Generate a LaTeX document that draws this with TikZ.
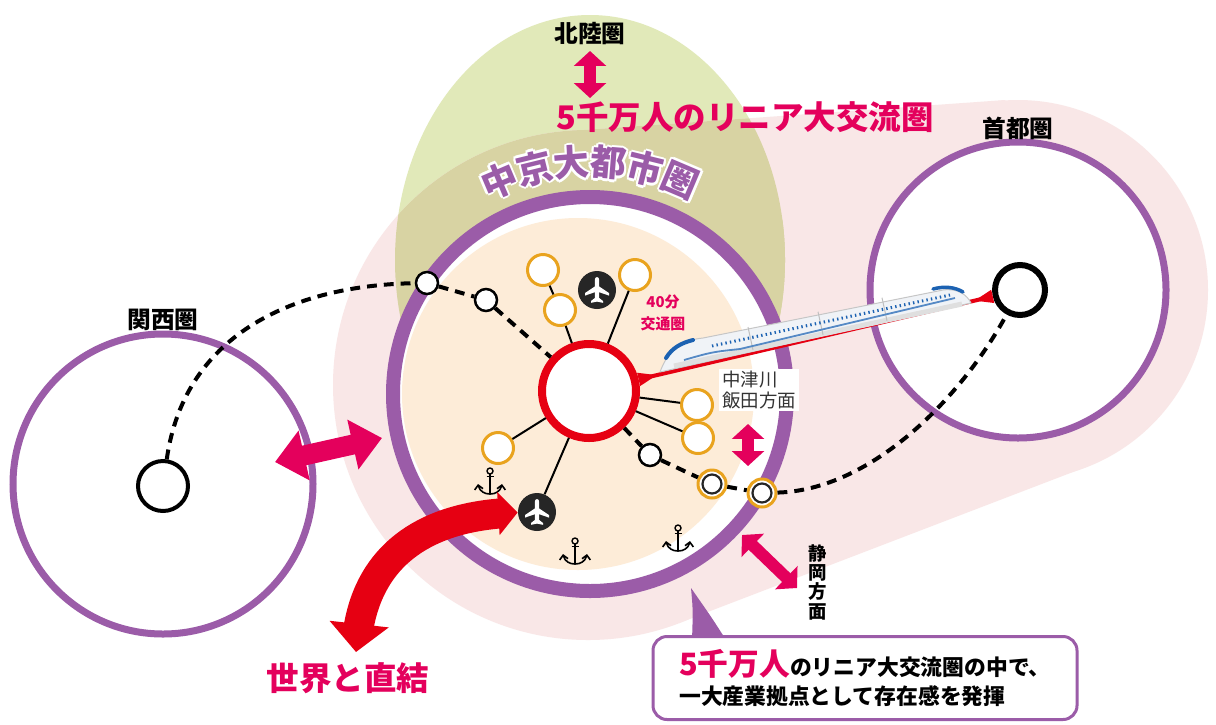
\documentclass[tikz,border=0pt]{standalone}
\usepackage{fontspec}
\setmainfont{Noto Sans CJK JP}
\usepackage{xcolor}
\usepackage{tikz}
\usetikzlibrary{arrows.meta, bending}
\definecolor{zonePurple}{RGB}{155,92,168}
\definecolor{linkMagenta}{RGB}{228,0,92}
\definecolor{worldRed}{RGB}{230,0,18}
\definecolor{townOrange}{RGB}{233,163,30}
\definecolor{coreBeige}{RGB}{253,236,216}
\definecolor{bandPink}{RGB}{249,231,231}
\definecolor{hokuGreen}{RGB}{225,233,185}
\definecolor{hokuOlive}{RGB}{216,211,163}
\definecolor{trainBlue}{RGB}{28,98,178}
\definecolor{trainBody}{RGB}{240,243,247}
\newlength{\pxu}\setlength{\pxu}{0.02cm}

\tikzset{
  plane/.pic={
    \fill[white] (0,-13) .. controls (1.4,-13) and (2.2,-11.5) .. (2.2,-10)
      -- (2.2,-3.5) -- (12,3) -- (12,5.6) -- (2.2,2.2) -- (2.2,8) -- (6,11)
      -- (6,12.8) -- (0,11.6) -- (-6,12.8) -- (-6,11) -- (-2.2,8) -- (-2.2,2.2)
      -- (-12,5.6) -- (-12,3) -- (-2.2,-3.5) -- (-2.2,-10)
      .. controls (-2.2,-11.5) and (-1.4,-13) .. (0,-13) -- cycle;
  },
  harbour/.pic={
    \draw[line width=1.4\pxu] (0,-12) circle [radius=3];
    \draw[line width=1.8\pxu] (0,-9) -- (0,11) (-3.5,-6.5) -- (3.5,-6.5);
    \draw[line width=1.6\pxu, {Straight Barb[length=2.4pt]}-{Straight Barb[length=2.4pt]}]
      (-12,1) .. controls (-11,8) and (-6,11) .. (0,11)
      .. controls (6,11) and (11,8) .. (12,1);
  }
}

\begin{document}
\begin{tikzpicture}[x=0.02cm, y=-0.02cm,
  zone/.style={circle, draw=zonePurple, fill=white, inner sep=0pt},
  halt/.style={circle, draw=black, fill=white, line width=2.5\pxu, minimum size=22\pxu, inner sep=0pt},
  halt2/.style={circle, draw=townOrange, fill=white, line width=3\pxu, minimum size=28\pxu, inner sep=0pt,
    path picture={\draw[black!85, line width=2.2\pxu] (path picture bounding box.center) circle [radius=9.5\pxu];}},
  town/.style={circle, draw=townOrange, fill=white, line width=3\pxu, minimum size=31\pxu, inner sep=0pt},
  airport/.style={circle, fill=black!85, minimum size=38\pxu, inner sep=0pt},
  rail/.style={line width=4\pxu, dash pattern=on 5.6pt off 4pt},
  spoke/.style={line width=2\pxu},
  twoway/.style={linkMagenta, line width=12\pxu, {Triangle[width=18pt, length=8.5pt]}-{Triangle[width=18pt, length=8.5pt]}},
  lbl/.style={font=\bfseries\fontsize{13.5}{15}\selectfont},
  msgbox/.style={draw=zonePurple, line width=3\pxu, fill=white, rounded corners=14\pxu,
    minimum width=424\pxu, minimum height=83\pxu, align=left, font=\bfseries\fontsize{12.4}{17}\selectfont}]
\useasboundingbox[fill=white] (0,0) rectangle (1216,724);

% hokuriku band and linear-shinkansen band
\fill[hokuGreen] (590,260) ellipse [x radius=195, y radius=245];
\fill[bandPink] (588,385) circle [radius=255] (1018,290) circle [radius=190];
\fill[bandPink] (570,131) -- (1005,100) -- (1086,467) -- (679,623) -- cycle;
\begin{scope}
  \clip (590,260) ellipse [x radius=195, y radius=245];
  \fill[hokuOlive] (588,385) circle [radius=255] (1018,290) circle [radius=190];
  \fill[hokuOlive] (570,131) -- (1005,100) -- (1086,467) -- (679,623) -- cycle;
\end{scope}

% metropolitan areas
\node[zone, line width=7\pxu, minimum size=300\pxu] (kansai) at (163,484) {};
\node[zone, line width=7\pxu, minimum size=296\pxu] (shuto) at (1018,290) {};
\node[zone, line width=14\pxu, minimum size=394\pxu] (chukyo) at (590,394) {};
\fill[coreBeige] (578,394) circle [radius=176];

% ring title with a white rim
\foreach \ch [count=\i] in {中,京,大,都,市,圏} {
  \pgfmathsetmacro{\ang}{-23+(\i-1)*9.2}
  \pgfmathsetmacro{\rot}{-\ang}
  \foreach \k in {0,45,...,315}
    \node[text=white, font=\bfseries\fontsize{20.5}{22}\selectfont, rotate=\rot]
      (halo-\i-\k) at ({590+232*sin(\ang)+2.4*cos(\k)}, {394-232*cos(\ang)+2.4*sin(\k)}) {\ch};
  \node[text=zonePurple, font=\bfseries\fontsize{20.5}{22}\selectfont, rotate=\rot]
    (title-\i) at ({590+232*sin(\ang)}, {394-232*cos(\ang)}) {\ch};
}

% stations
\node[circle, draw=black, fill=white, line width=4\pxu, minimum size=50\pxu] (kansaiC) at (163,486) {};
\node[circle, draw=black, fill=white, line width=6\pxu, minimum size=50\pxu] (shutoC) at (1020,290) {};
\node[halt] (w1) at (427,283) {};
\node[halt] (w2) at (486,300) {};
\node[halt] (w3) at (650,455) {};
\node[halt2] (w4) at (712,484) {};
\node[halt2] (w5) at (762,493) {};
\node[circle, draw=worldRed, fill=white, line width=8\pxu, minimum size=94\pxu] (hub) at (589,391) {};

\draw[rail] (kansaiC) .. controls (185,330) and (300,285) .. (w1);
\draw[rail] (w1) -- (w2);
\draw[rail] (w2) -- (hub);
\draw[rail] (hub) -- (w3);
\draw[rail] (w3) -- (w4);
\draw[rail] (w4) -- (w5);
\draw[rail] (w5) .. controls (870,490) and (960,400) .. (shutoC);

% towns, airports and ports around the hub
\node[town] (t1) at (543,270) {};
\node[town] (t2) at (560,310) {};
\node[town] (t3) at (635,275) {};
\node[town] (t4) at (697,405) {};
\node[town] (t5) at (698,438) {};
\node[town] (t6) at (498,448) {};
\node[airport] (air1) at (597,290) {};
\node[airport] (air2) at (537,512) {};
\pic at (air1) {plane};
\pic at (air2) {plane};
\draw[spoke] (t1) -- (t2) (t2) -- (hub) (t3) -- (hub) (hub) -- (t4)
  (hub) -- (t5) (hub) -- (t6) (hub) -- (air2);
\pic at (490,483) {harbour};
\pic at (575,553) {harbour};
\pic at (678,540) {harbour};

% maglev line and train
\draw[worldRed, line width=4\pxu,
  {Triangle[reversed, width=7pt, length=11pt]}-{Triangle[reversed, width=7pt, length=11pt]}]
  (hub) -- (shutoC);
\fill[trainBody, draw=gray!45, line width=1\pxu, line join=round]
  (660,372) .. controls (668,350) and (682,340) .. (703,338) -- (943,290)
  .. controls (958,288) and (967,295) .. (971,303) -- cycle;
\draw[gray!25, line width=5\pxu] (674,366) -- (962,304);
\foreach \xx in {753,823,887}
  \draw[gray!50, line width=1\pxu] (\xx,{370-0.219*(\xx-662)}) -- ++(-5,-23);
\draw[trainBlue!75, line width=1.8\pxu] (684,360) .. controls (712,352) .. (740,349) -- (955,298);
\draw[trainBlue, line width=3\pxu, dash pattern=on 0.8pt off 1.8pt] (712,346) -- (950,295);
\draw[trainBlue, line width=4\pxu, line cap=round] (666,358) .. controls (672,348) and (681,343) .. (693,340);
\draw[trainBlue, line width=3.5\pxu, line cap=round] (933,289) .. controls (944,286) and (955,287) .. (963,292);

% two-way links
\coordinate (hokuN) at (590,51);
\coordinate (hokuS) at (590,98);
\coordinate (kanW) at (275,462);
\coordinate (kanE) at (382,438);
\coordinate (iidaN) at (748,424);
\coordinate (iidaS) at (748,466);
\coordinate (shizN) at (742,535);
\coordinate (shizS) at (797,588);
\coordinate (worldS) at (356,652);
\draw[twoway] (hokuN) -- (hokuS);
\draw[linkMagenta, line width=20\pxu,
  {Triangle[width=28pt, length=17pt]}-{Triangle[width=28pt, length=17pt]}] (kanW) -- (kanE);
\draw[twoway] (iidaN) -- (iidaS);
\draw[twoway] (shizN) -- (shizS);
\draw[worldRed, line width=30\pxu,
  {Triangle[width=33pt, length=16pt]}-{Triangle[width=24pt, length=11pt]}]
  (worldS) .. controls (360,560) and (420,515) .. (air2);

% labels
\node[lbl] (hokuriku) at (590,34) {北陸圏};
\node[lbl] (kansaiL) at (163,320) {関西圏};
\node[lbl] (shutoL) at (1018,128) {首都圏};
\node[font=\bfseries\fontsize{18.5}{20}\selectfont, text=linkMagenta] (linia) at (745,117) {5千万人のリニア大交流圏};
\node[font=\bfseries\fontsize{18.5}{20}\selectfont, text=linkMagenta] (world) at (348,678) {世界と直結};
\node[font=\bfseries\fontsize{8.5}{12.5}\selectfont, text=linkMagenta, align=center] (commute) at (663,313) {40分\\交通圏};
\node[fill=white, inner sep=1.5pt, align=left, font=\fontsize{10.5}{11.5}\selectfont, text=black!80] (iida) at (759,390) {中津川\\飯田方面};
\node[font=\bfseries\fontsize{10.5}{11}\selectfont, align=center] (shizuoka) at (818,582) {静\\岡\\方\\面};

% message box
\fill[zonePurple] (691,588) .. controls (693,610) .. (692,640) -- (726,640) .. controls (712,618) .. (691,588) -- cycle;
\node[msgbox] (msg) at (865,678)
  {{\fontsize{17.5}{19}\selectfont\color{linkMagenta}5千万人}のリニア大交流圏の中で、\\一大産業拠点として存在感を発揮};
\end{tikzpicture}
\end{document}
